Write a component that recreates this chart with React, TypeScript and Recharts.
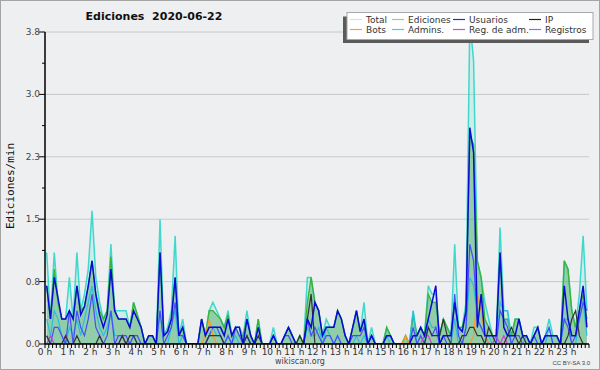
import React from 'react';
import { ComposedChart, Area, Line, XAxis, YAxis, CartesianGrid } from 'recharts';

// 10-minute slots, 00:00 .. 23:50 (edits per minute)
const total = [
  1.1, 0.3, 1.1, 0.5, 0.3, 0.3,
  0.8, 0.3, 1.1, 0.4, 0.6, 0.9,
  1.6, 0.8, 0.5, 0.3, 0.4, 1.2,
  0.4, 0.4, 0.4, 0.4, 0.2, 0.5,
  0.35, 0.2, 0, 0.1, 0.1, 0,
  1.5, 0.1, 0.2, 0.4, 1.3, 0.1,
  0.3, 0, 0, 0, 0, 0.3,
  0.1, 0.4, 0.5, 0.4, 0.3, 0.2,
  0.4, 0.1, 0.2, 0.2, 0.1, 0.4,
  0.1, 0, 0.3, 0, 0, 0,
  0.2, 0, 0, 0.1, 0.2, 0.1,
  0, 0.1, 0, 0.8, 0.8, 0.5,
  0.4, 0.1, 0.3, 0.2, 0.2, 0.4,
  0.3, 0.1, 0, 0.2, 0.4, 0.15,
  0.5, 0, 0.2, 0, 0, 0,
  0.2, 0.1, 0, 0, 0, 0.1,
  0, 0.4, 0.1, 0.2, 0.1, 0.7,
  0.6, 0.6, 0.1, 0.3, 0.2, 0.1,
  1.2, 0.2, 0.2, 0.5, 3.9, 3.4,
  1.0, 0.8, 0.5, 0.3, 0.1, 0.1,
  1.4, 0.4, 0.4, 0.1, 0.3, 0.3,
  0.1, 0.1, 0, 0.2, 0.2, 0,
  0.1, 0.3, 0.1, 0.1, 0, 1.0,
  0.9, 0.4, 0.2, 0.6, 1.3, 0.4,
];

const ediciones = [
  0.7, 0.3, 0.9, 0.5, 0.3, 0.3,
  0.4, 0.3, 0.7, 0.4, 0.45, 0.7,
  1.0, 0.6, 0.4, 0.3, 0.4, 1.05,
  0.4, 0.3, 0.3, 0.3, 0.2, 0.5,
  0.35, 0.2, 0, 0.1, 0.1, 0,
  1.1, 0.1, 0.15, 0.3, 0.8, 0.1,
  0.2, 0, 0, 0, 0, 0.3,
  0.1, 0.4, 0.4, 0.35, 0.3, 0.2,
  0.35, 0.1, 0.2, 0.1, 0.1, 0.3,
  0.1, 0, 0.3, 0, 0, 0,
  0.1, 0, 0, 0.1, 0.2, 0.1,
  0, 0.1, 0, 0.5, 0.8, 0.5,
  0.4, 0.1, 0.2, 0.2, 0.2, 0.4,
  0.3, 0.1, 0, 0.2, 0.4, 0.15,
  0.3, 0, 0.1, 0, 0, 0,
  0.2, 0.1, 0, 0, 0, 0.1,
  0, 0.35, 0.1, 0.2, 0.1, 0.6,
  0.5, 0.5, 0.1, 0.3, 0.2, 0.1,
  0.5, 0.2, 0.2, 0.4, 2.5, 2.4,
  1.0, 0.8, 0.3, 0.2, 0.1, 0.1,
  1.1, 0.3, 0.3, 0.1, 0.3, 0.3,
  0.1, 0.1, 0, 0.1, 0.2, 0,
  0.1, 0.1, 0.1, 0.1, 0, 1.0,
  0.9, 0.4, 0.2, 0.4, 0.6, 0.3,
];

const usuarios = [
  0.7, 0.3, 0.8, 0.55, 0.3, 0.3,
  0.4, 0.3, 0.7, 0.35, 0.45, 0.7,
  1.0, 0.6, 0.35, 0.2, 0.35, 0.9,
  0.4, 0.3, 0.3, 0.3, 0.2, 0.4,
  0.3, 0.2, 0, 0.1, 0.1, 0,
  1.1, 0.1, 0.15, 0.3, 0.8, 0.1,
  0.2, 0, 0, 0, 0, 0.3,
  0.1, 0.2, 0.2, 0.2, 0.2, 0.1,
  0.3, 0.1, 0.2, 0.2, 0, 0.3,
  0.1, 0, 0.2, 0, 0, 0,
  0.1, 0, 0, 0.1, 0.2, 0.1,
  0, 0, 0, 0.3, 0.2, 0.5,
  0.4, 0.1, 0.2, 0.2, 0.2, 0.4,
  0.3, 0.1, 0, 0.2, 0.4, 0.15,
  0.3, 0, 0.1, 0, 0, 0,
  0.1, 0.1, 0, 0, 0, 0,
  0, 0.1, 0.1, 0.2, 0.1, 0.3,
  0.5, 0.7, 0, 0.1, 0.1, 0.1,
  0.5, 0.2, 0.15, 0.4, 2.6, 2.3,
  0.2, 0.6, 0.1, 0.1, 0.1, 0.1,
  1.1, 0.2, 0.1, 0.1, 0.1, 0.3,
  0.1, 0.1, 0, 0.1, 0.2, 0,
  0.1, 0.1, 0.1, 0.1, 0, 0.7,
  0.3, 0.1, 0.1, 0.4, 0.7, 0.2,
];

const ip = [
  0.1, 0, 0, 0, 0, 0.1,
  0, 0, 0.1, 0, 0, 0,
  0, 0, 0.1, 0, 0, 0,
  0, 0, 0.1, 0, 0.1, 0.1,
  0, 0, 0, 0, 0, 0,
  0, 0, 0, 0, 0, 0,
  0, 0, 0, 0, 0, 0,
  0, 0.1, 0.1, 0.1, 0.1, 0,
  0, 0, 0, 0, 0, 0.1,
  0, 0, 0.1, 0, 0, 0,
  0, 0, 0, 0, 0, 0,
  0, 0.1, 0, 0.3, 0.6, 0,
  0, 0, 0, 0, 0, 0,
  0, 0, 0, 0, 0, 0,
  0, 0, 0, 0, 0, 0,
  0, 0, 0, 0, 0, 0,
  0, 0, 0, 0, 0, 0.2,
  0.1, 0.1, 0.1, 0.3, 0.1, 0,
  0, 0, 0.1, 0.1, 0.2, 0.2,
  0.1, 0.1, 0, 0.2, 0.1, 0,
  0, 0, 0.1, 0.2, 0.1, 0,
  0.1, 0, 0, 0, 0, 0,
  0, 0, 0, 0, 0, 0,
  0.1, 0.3, 0.4, 0.1, 0, 0,
];

const bots = [
  0, 0, 0, 0, 0, 0,
  0, 0, 0, 0, 0, 0,
  0, 0, 0, 0, 0, 0,
  0, 0, 0, 0, 0, 0,
  0, 0, 0, 0, 0, 0,
  0, 0, 0, 0, 0, 0,
  0, 0, 0, 0, 0, 0,
  0.1, 0.3, 0.1, 0, 0, 0,
  0, 0, 0, 0, 0, 0,
  0, 0, 0, 0, 0, 0,
  0, 0, 0, 0, 0, 0,
  0, 0, 0, 0, 0, 0,
  0, 0, 0, 0, 0, 0,
  0, 0, 0, 0, 0, 0,
  0, 0, 0, 0, 0, 0,
  0, 0, 0, 0, 0, 0.1,
  0, 0, 0, 0, 0, 0,
  0, 0, 0, 0, 0, 0,
  0, 0, 0, 0, 0, 0.1,
  0.6, 0.4, 0.1, 0, 0, 0,
  0, 0, 0, 0, 0, 0,
  0, 0, 0, 0, 0, 0,
  0, 0, 0, 0, 0, 0,
  0, 0, 0, 0, 0, 0,
];

const admins = [
  0.3, 0.1, 0.4, 0.3, 0.1, 0,
  0.2, 0.1, 0.3, 0.1, 0.3, 0.5,
  0.7, 0.4, 0.2, 0.1, 0.2, 0.4,
  0.1, 0.1, 0.1, 0, 0, 0.1,
  0, 0, 0, 0, 0, 0,
  0.4, 0, 0, 0.2, 0.4, 0,
  0.1, 0, 0, 0, 0, 0,
  0, 0.1, 0.2, 0.1, 0.1, 0,
  0.1, 0, 0.1, 0, 0, 0.1,
  0, 0, 0, 0, 0, 0,
  0.1, 0, 0, 0, 0, 0,
  0, 0, 0, 0.2, 0.1, 0.1,
  0.2, 0, 0.2, 0.1, 0, 0.1,
  0, 0, 0, 0, 0.1, 0,
  0.1, 0, 0.1, 0, 0, 0,
  0.1, 0, 0, 0, 0, 0,
  0, 0.4, 0, 0.1, 0, 0.3,
  0.2, 0.2, 0, 0, 0, 0,
  0.3, 0, 0, 0.2, 0.8, 0.7,
  0.3, 0.2, 0.1, 0.1, 0, 0,
  0.5, 0.4, 0.4, 0, 0, 0,
  0, 0.1, 0, 0.1, 0, 0,
  0, 0.2, 0, 0, 0, 0.3,
  0.3, 0, 0, 0.3, 0.5, 0.1,
];

const regAdm = [
  0, 0.1, 0, 0, 0, 0.1,
  0, 0, 0, 0, 0, 0,
  0, 0, 0, 0, 0, 0,
  0, 0, 0.1, 0, 0, 0,
  0, 0, 0, 0, 0, 0,
  0, 0, 0, 0, 0, 0,
  0, 0, 0, 0, 0, 0,
  0, 0, 0, 0, 0, 0,
  0, 0, 0, 0, 0, 0,
  0, 0, 0, 0, 0, 0,
  0, 0, 0, 0, 0, 0,
  0, 0, 0, 0, 0, 0,
  0, 0, 0, 0, 0, 0,
  0, 0, 0, 0, 0, 0,
  0, 0, 0, 0, 0, 0,
  0, 0, 0, 0, 0, 0,
  0, 0, 0, 0, 0.1, 0.1,
  0, 0, 0, 0, 0, 0,
  0, 0, 0, 0, 0, 0,
  0, 0, 0, 0, 0, 0.1,
  0, 0.1, 0, 0, 0, 0,
  0, 0, 0, 0, 0, 0,
  0, 0, 0, 0, 0, 0,
  0, 0, 0, 0, 0, 0,
];

const registros = [
  0.1, 0, 0.2, 0.2, 0.1, 0,
  0.4, 0, 0.4, 0.2, 0.1, 0.3,
  0.6, 0.2, 0.1, 0, 0.1, 0.4,
  0, 0.1, 0.1, 0.1, 0, 0.1,
  0.1, 0, 0, 0, 0, 0,
  0.4, 0, 0.1, 0.2, 0.5, 0.1,
  0.1, 0, 0, 0, 0, 0,
  0, 0.1, 0.2, 0.2, 0.1, 0,
  0.1, 0, 0.2, 0.1, 0, 0.1,
  0, 0, 0, 0, 0, 0,
  0.1, 0, 0, 0.1, 0.1, 0,
  0, 0, 0, 0.3, 0.1, 0.2,
  0.1, 0, 0.1, 0.1, 0, 0.1,
  0, 0, 0, 0.1, 0.1, 0.1,
  0.2, 0, 0.1, 0, 0, 0,
  0.1, 0.1, 0, 0, 0, 0,
  0, 0.2, 0, 0.1, 0, 0.2,
  0.1, 0.2, 0, 0.1, 0, 0,
  0.6, 0.1, 0, 0.2, 1.2, 1.0,
  0.3, 0.2, 0.1, 0, 0, 0,
  0.4, 0.3, 0.2, 0, 0.1, 0.1,
  0, 0, 0, 0.1, 0, 0,
  0.1, 0.2, 0, 0, 0, 0.3,
  0.2, 0, 0.1, 0.3, 0.5, 0.4,
];

const hourLabels = Array.from({ length: 24 }, (_, h) => `${h} h`);
const yMajor = [0, 0.75, 1.5, 2.25, 3, 3.75];
const yTicks = [0, 0.375, 0.75, 1.125, 1.5, 1.875, 2.25, 2.625, 3, 3.375, 3.75];
const xTicks = Array.from({ length: 145 }, (_, i) => i);

const legendItems = [
  { name: 'Total', color: '#b4eeee', col: 0, row: 0 },
  { name: 'Ediciones', color: '#8ad88a', col: 1, row: 0 },
  { name: 'Usuarios', color: '#2a2ad8', col: 2, row: 0 },
  { name: 'IP', color: '#222222', col: 3, row: 0 },
  { name: 'Bots', color: '#f2a040', col: 0, row: 1 },
  { name: 'Admins.', color: '#40d0e0', col: 1, row: 1 },
  { name: 'Reg. de adm.', color: '#d048e0', col: 2, row: 1 },
  { name: 'Registros', color: '#7878f0', col: 3, row: 1 },
];
const legendColX = [350, 392, 453, 529];

const rows = total.map((t, i) => ({
  x: i + 0.45,
  total: t,
  ediciones: ediciones[i],
  usuarios: usuarios[i],
  ip: ip[i],
  bots: bots[i],
  admins: admins[i],
  regAdm: regAdm[i],
  registros: registros[i],
}));

const FONT = 'DejaVu Sans, Verdana, sans-serif';

const XTick = (props: any) => {
  const { x, y, payload } = props;
  const v = payload.value as number;
  const isHour = v % 6 === 0 && v < 144;
  return (
    <g>
      <line x1={x} x2={x} y1={y} y2={y + 4} stroke="#000" strokeWidth={1} />
      {isHour ? (
        <text x={x} y={y + 11} textAnchor="middle" fontSize={9} fontFamily={FONT} fill="#333">
          {hourLabels[v / 6]}
        </text>
      ) : null}
    </g>
  );
};

const YTick = (props: any) => {
  const { x, y, payload } = props;
  const v = payload.value as number;
  const major = yMajor.indexOf(v) >= 0;
  return (
    <g>
      <line x1={x - (major ? 6 : 3)} x2={x} y1={y} y2={y} stroke="#000" strokeWidth={1} />
      {major ? (
        <text x={x - 5} y={y + 3} textAnchor="end" fontSize={9} fontFamily={FONT} fill="#444">
          {v.toFixed(1)}
        </text>
      ) : null}
    </g>
  );
};

const Overlay = () => (
  <svg width={600} height={370} style={{ position: 'absolute', left: 0, top: 0, pointerEvents: 'none' }}>
    <text x={154} y={20} textAnchor="middle" fontSize={11} fontWeight="bold" fontFamily={FONT} fill="#111" style={{ whiteSpace: 'pre' }}>
      {'Ediciones  2020-06-22'}
    </text>
    <text transform="translate(14,186) rotate(-90)" textAnchor="middle" fontSize={11} fontFamily="DejaVu Sans Mono, monospace" fill="#111">
      Ediciones/min
    </text>
    <text x={300} y={364} textAnchor="middle" fontSize={8} fontFamily={FONT} fill="#444">wikiscan.org</text>
    <text x={590} y={365} textAnchor="end" fontSize={6} fontFamily="Liberation Sans, Arial, sans-serif" fill="#444">CC BY-SA 3.0</text>
    <rect x={343} y={16.5} width={246} height={26.5} fill="#5a5a5a" />
    <rect x={347} y={12.5} width={246} height={27} fill="#ffffff" stroke="#a8a8a8" strokeWidth={1} />
    {legendItems.map((it) => {
      const lx = legendColX[it.col];
      const cy = 19.5 + it.row * 10;
      return (
        <g key={it.name}>
          <line x1={lx} x2={lx + 12} y1={cy} y2={cy} stroke={it.color} strokeWidth={1.2} />
          <text x={lx + 16} y={cy + 3.2} fontSize={9} fontFamily={FONT} fill="#333">{it.name}</text>
        </g>
      );
    })}
  </svg>
);

export default function App() {
  return (
    <div style={{ position: 'absolute', left: 0, top: 0, width: 600, height: 370, background: '#eeeff1', boxSizing: 'border-box', border: '1px solid #a4a4a4' }}>
      <div style={{ position: 'absolute', left: -1, top: -1 }}>
        <ComposedChart width={600} height={370} data={rows} margin={{ top: 32, right: 11, bottom: 0, left: 0 }}>
          <CartesianGrid vertical={false} horizontalValues={yMajor} stroke="#c8c8c8" strokeWidth={1} />
          <XAxis
            dataKey="x"
            type="number"
            domain={[0, 144]}
            ticks={xTicks}
            interval={0}
            tick={<XTick />}
            tickLine={false}
            tickSize={0}
            tickMargin={0}
            height={26}
            axisLine={{ stroke: '#000', strokeWidth: 1.5 }}
            allowDataOverflow
          />
          <YAxis
            type="number"
            domain={[0, 3.75]}
            ticks={yTicks}
            interval={0}
            tick={<YTick />}
            tickLine={false}
            tickSize={0}
            tickMargin={0}
            width={45}
            axisLine={{ stroke: '#000', strokeWidth: 1.5 }}
            allowDataOverflow
          />
          <Area type="linear" dataKey="total" stroke="#40d8cc" strokeWidth={1.5} fill="#40e0d0" fillOpacity={0.18} dot={false} activeDot={false} isAnimationActive={false} />
          <Area type="linear" dataKey="ediciones" stroke="#38b438" strokeWidth={1.3} fill="#2e9a40" fillOpacity={0.38} dot={false} activeDot={false} isAnimationActive={false} />
          <Line type="linear" dataKey="admins" stroke="#28c0e0" strokeWidth={1.2} dot={false} activeDot={false} isAnimationActive={false} />
          <Line type="linear" dataKey="registros" stroke="#4a4aff" strokeWidth={1.2} dot={false} activeDot={false} isAnimationActive={false} />
          <Line type="linear" dataKey="regAdm" stroke="#d040d8" strokeWidth={1.2} dot={false} activeDot={false} isAnimationActive={false} />
          <Line type="linear" dataKey="bots" stroke="#ff9a1a" strokeWidth={1.2} dot={false} activeDot={false} isAnimationActive={false} />
          <Line type="linear" dataKey="ip" stroke="#333333" strokeWidth={1.2} dot={false} activeDot={false} isAnimationActive={false} />
          <Line type="linear" dataKey="usuarios" stroke="#0a0ad8" strokeWidth={1.5} dot={false} activeDot={false} isAnimationActive={false} />
        </ComposedChart>
      </div>
      <div style={{ position: 'absolute', left: -1, top: -1 }}>
        <Overlay />
      </div>
    </div>
  );
}
